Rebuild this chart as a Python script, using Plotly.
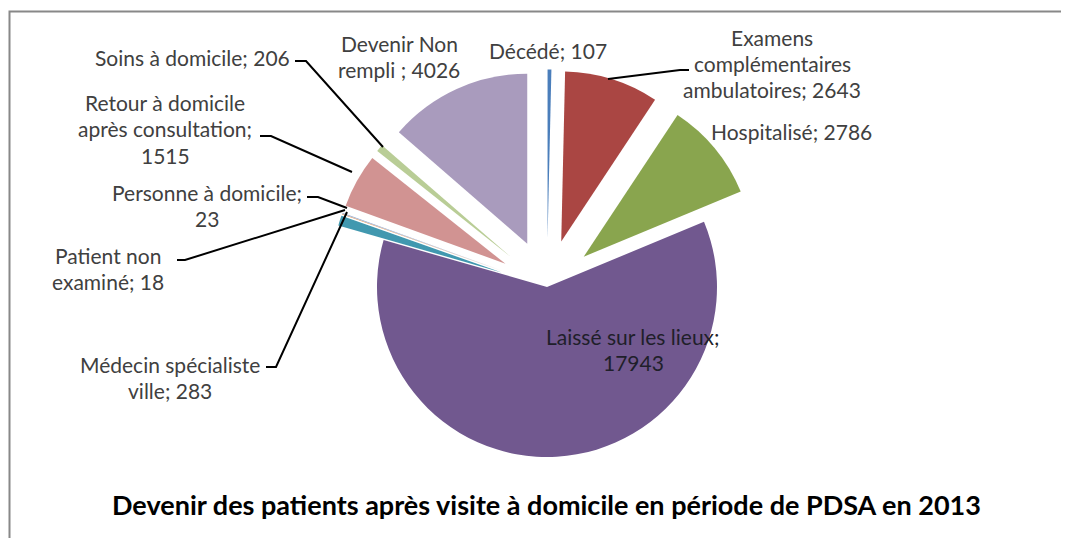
import plotly.graph_objects as go

W, H = 1069, 538
OFF = 8  # page body margin offset in the browser

categories = ["Décédé", "Examens complémentaires ambulatoires", "Hospitalisé",
              "Laissé sur les lieux", "Médecin spécialiste ville", "Patient non examiné",
              "Personne à domicile", "Retour à domicile après consultation",
              "Soins à domicile", "Devenir Non rempli "]
values = [107, 2643, 2786, 17943, 283, 18, 23, 1515, 206, 4026]
colors = ["#4A7EBB", "#AA4643", "#89A54E", "#71588F", "#4198AF", "#DB843D",
          "#93A9CF", "#D19392", "#B9CD96", "#A99BBD"]
pulls = [0.28, 0.28, 0.28, 0.0, 0.28, 0.28, 0.28, 0.28, 0.28, 0.28]

title_text = "Devenir des patients après visite à domicile en période de PDSA en 2013"


def px(x):
    return (x - OFF) / W


def py(y):
    return 1 - (y - OFF) / H


# pie geometry (pixels)
cx, cy, r = 547, 287, 170
half = r * (1 + max(pulls))

fig = go.Figure(go.Pie(
    labels=categories, values=values, sort=False, direction="clockwise",
    rotation=0, pull=pulls, textinfo="none", hoverinfo="label+value",
    marker=dict(colors=colors, line=dict(width=0)),
    domain=dict(x=[px(cx - half), px(cx + half)], y=[py(cy + half), py(cy - half)]),
    showlegend=False,
))


def lab(i, wrap):
    return wrap.replace("{v}", str(values[i]))


# label layout: (category index, lines, center x, first line y)
label_layout = [
    (0, ["Décédé; {v}"], 548, 50),
    (1, ["Examens", "complémentaires", "ambulatoires; {v}"], 772, 37),
    (2, ["Hospitalisé; {v}"], 791, 131),
    (9, ["Devenir Non", "rempli ; {v}"], 399, 43),
    (8, ["Soins à domicile; {v}"], 192, 57),
    (7, ["Retour à domicile", "après consultation;", "{v}"], 165, 102),
    (6, ["Personne à domicile;", "{v}"], 207, 192),
    (5, ["Patient non", "examiné; {v}"], 108, 255),
    (4, ["Médecin spécialiste", "ville; {v}"], 170, 364),
]
annotations = []
FAM = "Lato, 'Open Sans', sans-serif"
font = dict(family=FAM, size=21, color="#404040")
for i, lines, x, y0 in label_layout:
    for k, ln in enumerate(lines):
        annotations.append(dict(
            x=px(x), y=py(y0 + k * 26.5), xref="paper", yref="paper",
            text=lab(i, ln), showarrow=False, xanchor="center", yanchor="middle",
            font=font))

# label inside the big slice
for k, ln in enumerate(["Laissé sur les lieux;", str(values[3])]):
    annotations.append(dict(
        x=px(633), y=py(336 + k * 26.5), xref="paper", yref="paper", text=ln,
        showarrow=False, xanchor="center", yanchor="middle",
        font=dict(family=FAM, size=21, color="#1f1f2a")))

annotations.append(dict(
    x=px(546), y=py(504), xref="paper", yref="paper", text="<b>" + title_text + "</b>",
    showarrow=False, xanchor="center", yanchor="middle",
    font=dict(family=FAM, size=27, color="#000000")))

# leader lines (pixel paths)
leaders = [
    [(608, 79), (680, 70), (689, 70)],
    [(295, 61), (306, 61), (383, 147)],
    [(260, 136), (271, 136), (352, 172)],
    [(307, 197), (318, 197), (347, 208)],
    [(177, 260), (185, 260), (345, 210)],
    [(266, 367), (276, 367), (347, 212)],
]
shapes = []
for pts in leaders:
    path = "M " + " L ".join(f"{px(x)},{py(y)}" for x, y in pts)
    shapes.append(dict(type="path", path=path, xref="paper", yref="paper",
                       line=dict(color="#000000", width=2)))

# chart frame
shapes.append(dict(type="rect", xref="paper", yref="paper",
                   x0=px(9.5), x1=px(1100), y0=py(580), y1=py(11.5),
                   line=dict(color="#888888", width=2), fillcolor="rgba(0,0,0,0)"))

fig.update_layout(
    width=W, height=H, margin=dict(l=0, r=0, t=0, b=0),
    paper_bgcolor="white", plot_bgcolor="white",
    annotations=annotations, shapes=shapes,
)

fig.write_html("out.html")
